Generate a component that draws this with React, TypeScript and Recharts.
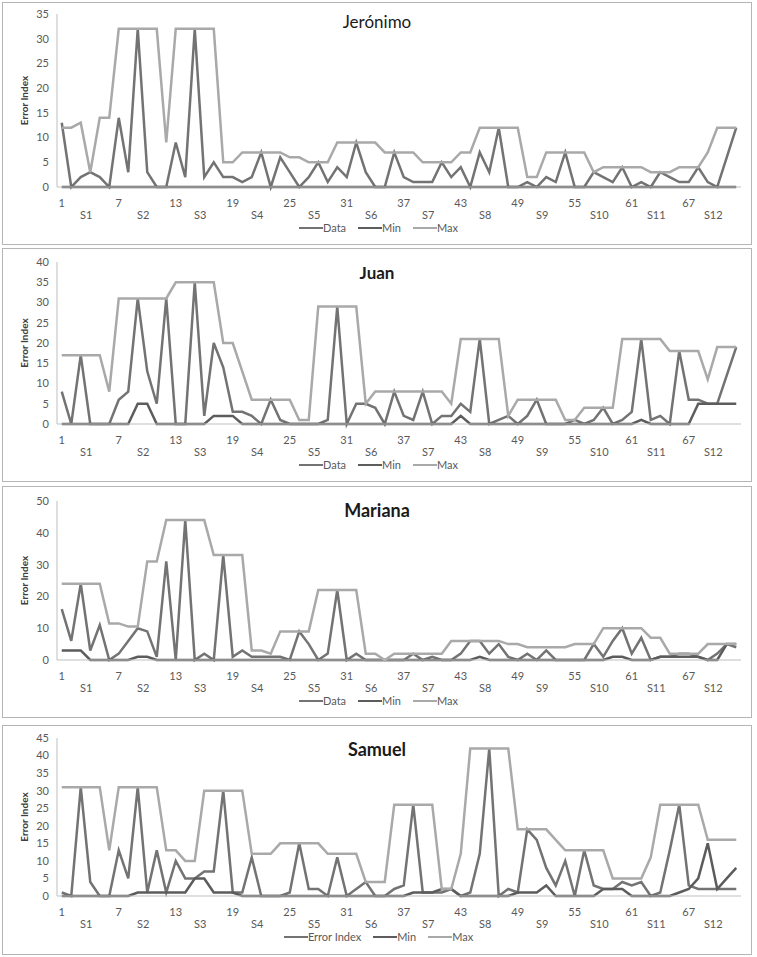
import React from "react";
import { Legend, Line, LineChart, XAxis, YAxis } from "recharts";

// category axis: 72 measurements grouped in 12 sessions of 6
const points = Array.from({ length: 72 }, (_, i) => i + 1);
const sessionLabels = ["S1", "S2", "S3", "S4", "S5", "S6", "S7", "S8", "S9", "S10", "S11", "S12"];
const seriesOrder = ["data", "min", "max"];

// Jerónimo
const jeronimoData = [
  13, 0, 2, 3, 2, 0, 14, 3, 32, 3, 0, 0, 9, 2, 32, 2, 5, 2, 2, 1, 2, 7, 0, 6,
  3, 0, 2, 5, 1, 4, 2, 9, 3, 0, 0, 7, 2, 1, 1, 1, 5, 2, 4, 0, 7, 3, 12, 0,
  0, 1, 0, 2, 1, 7, 0, 0, 3, 2, 1, 4, 0, 1, 0, 3, 2, 1, 1, 4, 1, 0, 6, 12,
];
const jeronimoMin = [
  0, 0, 0, 0, 0, 0, 0, 0, 0, 0, 0, 0, 0, 0, 0, 0, 0, 0, 0, 0, 0, 0, 0, 0,
  0, 0, 0, 0, 0, 0, 0, 0, 0, 0, 0, 0, 0, 0, 0, 0, 0, 0, 0, 0, 0, 0, 0, 0,
  0, 0, 0, 0, 0, 0, 0, 0, 0, 0, 0, 0, 0, 0, 0, 0, 0, 0, 0, 0, 0, 0, 0, 0,
];
const jeronimoMax = [
  12, 12, 13, 3, 14, 14, 32, 32, 32, 32, 32, 9, 32, 32, 32, 32, 32, 5, 5, 7, 7, 7, 7, 7,
  6, 6, 5, 5, 5, 9, 9, 9, 9, 9, 7, 7, 7, 7, 5, 5, 5, 5, 7, 7, 12, 12, 12, 12,
  12, 2, 2, 7, 7, 7, 7, 7, 3, 4, 4, 4, 4, 4, 3, 3, 3, 4, 4, 4, 7, 12, 12, 12,
];

// Juan
const juanData = [
  8, 0, 17, 0, 0, 0, 6, 8, 31, 13, 5, 31, 0, 0, 35, 2, 20, 14, 3, 3, 2, 0, 6, 1,
  0, 0, 0, 0, 1, 29, 0, 5, 5, 4, 0, 8, 2, 1, 8, 0, 2, 2, 5, 3, 21, 0, 1, 2,
  0, 2, 6, 0, 0, 0, 1, 0, 1, 4, 0, 1, 3, 21, 1, 2, 0, 18, 6, 6, 5, 5, 12, 19,
];
const juanMin = [
  0, 0, 0, 0, 0, 0, 0, 0, 5, 5, 0, 0, 0, 0, 0, 0, 2, 2, 2, 0, 0, 0, 0, 0,
  0, 0, 0, 0, 0, 0, 0, 0, 0, 0, 0, 0, 0, 0, 0, 0, 0, 0, 2, 0, 0, 0, 0, 0,
  0, 0, 0, 0, 0, 0, 0, 0, 0, 0, 0, 0, 0, 1, 0, 0, 0, 0, 0, 5, 5, 5, 5, 5,
];
const juanMax = [
  17, 17, 17, 17, 17, 8, 31, 31, 31, 31, 31, 31, 35, 35, 35, 35, 35, 20, 20, 13, 6, 6, 6, 6,
  6, 1, 1, 29, 29, 29, 29, 29, 5, 8, 8, 8, 8, 8, 8, 8, 8, 5, 21, 21, 21, 21, 21, 2,
  6, 6, 6, 6, 6, 1, 1, 4, 4, 4, 4, 21, 21, 21, 21, 21, 18, 18, 18, 18, 11, 19, 19, 19,
];

// Mariana
const marianaData = [
  16, 6, 24, 3, 11, 0, 2, 6, 10, 9, 1, 31, 0, 44, 0, 2, 0, 33, 1, 3, 1, 1, 1, 1,
  0, 9, 5, 0, 2, 22, 0, 2, 0, 0, 0, 0, 0, 2, 0, 1, 0, 0, 2, 6, 6, 2, 5, 1,
  0, 2, 0, 3, 0, 0, 0, 0, 5, 1, 6, 10, 2, 7, 0, 1, 1, 2, 2, 1, 0, 2, 5, 4,
];
const marianaMin = [
  3, 3, 3, 0, 0, 0, 0, 0, 1, 1, 0, 0, 0, 0, 0, 0, 0, 0, 0, 0, 0, 0, 0, 0,
  0, 0, 0, 0, 0, 0, 0, 0, 0, 0, 0, 0, 0, 0, 0, 0, 0, 0, 0, 0, 1, 0, 0, 0,
  0, 0, 0, 0, 0, 0, 0, 0, 0, 0, 1, 1, 0, 0, 0, 1, 1, 1, 1, 1, 0, 0, 5, 5,
];
const marianaMax = [
  24, 24, 24, 24, 24, 11.5, 11.5, 10.5, 10.5, 31, 31, 44, 44, 44, 44, 44, 33, 33, 33, 33, 3, 3, 2, 9,
  9, 9, 9, 22, 22, 22, 22, 22, 2, 2, 0, 2, 2, 2, 2, 2, 2, 6, 6, 6, 6, 6, 6, 5,
  5, 4, 4, 4, 4, 4, 5, 5, 5, 10, 10, 10, 10, 10, 7, 7, 2, 2, 2, 2, 5, 5, 5, 5,
];

// Samuel
const samuelData = [
  1, 0, 31, 4, 0, 0, 13, 5, 31, 1, 13, 1, 10, 5, 5, 7, 7, 30, 1, 1, 11, 0, 0, 0,
  1, 15, 2, 2, 0, 11, 0, 2, 4, 0, 0, 2, 3, 26, 1, 1, 1, 2, 0, 1, 12, 42, 0, 2,
  1, 19, 16, 8, 3, 10, 0, 13, 3, 2, 2, 4, 3, 4, 0, 1, 13, 26, 3, 2, 2, 2, 2, 2,
];
const samuelMin = [
  0, 0, 0, 0, 0, 0, 0, 0, 1, 1, 1, 1, 1, 1, 5, 5, 1, 1, 1, 0, 0, 0, 0, 0,
  0, 0, 0, 0, 0, 0, 0, 0, 0, 0, 0, 0, 0, 1, 1, 1, 2, 2, 0, 0, 0, 0, 0, 0,
  1, 1, 1, 3, 0, 0, 0, 0, 0, 2, 2, 2, 0, 0, 0, 0, 0, 1, 2, 5, 15, 2, 5, 8,
];
const samuelMax = [
  31, 31, 31, 31, 31, 13, 31, 31, 31, 31, 31, 13, 13, 10, 10, 30, 30, 30, 30, 30, 12, 12, 12, 15,
  15, 15, 15, 15, 12, 12, 12, 12, 4, 4, 4, 26, 26, 26, 26, 26, 2, 2, 12, 42, 42, 42, 42, 42,
  19, 19, 19, 19, 16, 13, 13, 13, 13, 13, 5, 5, 5, 5, 11, 26, 26, 26, 26, 26, 16, 16, 16, 16,
];

const DATA_COLOR = "#737373";
const MIN_COLOR = "#5c5c5c";
const MAX_COLOR = "#a9a9a9";
const AXIS_COLOR = "#bfbfbf";
const TEXT_COLOR = "#595959";

type Panel = {
  name: string;
  bold: boolean;
  titleSize: number;
  dataLabel: string;
  data: number[];
  min: number[];
  max: number[];
  yTicks: number[];
  top: number;
  height: number;
  plotTop: number;
  baseline: number;
  titleY: number;
};

const panels: Panel[] = [
  {
    name: "Jerónimo", bold: false, titleSize: 17, dataLabel: "Data",
    data: jeronimoData, min: jeronimoMin, max: jeronimoMax,
    yTicks: [0, 5, 10, 15, 20, 25, 30, 35],
    top: 2, height: 243, plotTop: 12, baseline: 185, titleY: 20,
  },
  {
    name: "Juan", bold: true, titleSize: 17, dataLabel: "Data",
    data: juanData, min: juanMin, max: juanMax,
    yTicks: [0, 5, 10, 15, 20, 25, 30, 35, 40],
    top: 248, height: 234, plotTop: 14, baseline: 176, titleY: 25,
  },
  {
    name: "Mariana", bold: true, titleSize: 18, dataLabel: "Data",
    data: marianaData, min: marianaMin, max: marianaMax,
    yTicks: [0, 10, 20, 30, 40, 50],
    top: 486, height: 232, plotTop: 15, baseline: 174, titleY: 24,
  },
  {
    name: "Samuel", bold: true, titleSize: 18, dataLabel: "Error Index",
    data: samuelData, min: samuelMin, max: samuelMax,
    yTicks: [0, 5, 10, 15, 20, 25, 30, 35, 40, 45],
    top: 725, height: 230, plotTop: 13, baseline: 171, titleY: 24,
  },
];

const SessionTick = (props: any) => {
  const { x, y, payload } = props;
  const i = Number(payload.value);
  return (
    <g>
      {(i - 1) % 6 === 0 && (
        <text x={x} y={y + 12} textAnchor="middle" fontSize={11} fill={TEXT_COLOR}>
          {i}
        </text>
      )}
      {i % 6 === 4 && (
        <text x={x - 4} y={y + 24} textAnchor="middle" fontSize={11} fill={TEXT_COLOR}>
          {sessionLabels[(i - 4) / 6]}
        </text>
      )}
    </g>
  );
};

const LegendContent = (props: any) => {
  const items = [...(props.payload || [])].sort(
    (a: any, b: any) => seriesOrder.indexOf(a.dataKey) - seriesOrder.indexOf(b.dataKey)
  );
  return (
    <div style={{ display: "flex", justifyContent: "center", gap: 12, height: 14, lineHeight: "14px", fontSize: 11, color: TEXT_COLOR }}>
      {items.map((it: any) => (
        <span key={it.dataKey} style={{ display: "inline-flex", alignItems: "center" }}>
          <span style={{ display: "inline-block", width: 24, height: 2.5, background: it.color }} />
          <span>{it.value}</span>
        </span>
      ))}
    </div>
  );
};

const PersonChart = ({ p }: { p: Panel }) => {
  const rows = points.map((pt, i) => ({ point: pt, data: p.data[i], min: p.min[i], max: p.max[i] }));
  const yMax = p.yTicks[p.yTicks.length - 1];
  return (
    <div style={{ position: "absolute", left: 0, top: p.top, width: 757, height: p.height }}>
      <div
        style={{
          position: "absolute", left: 2, top: 0, width: 750, height: p.height,
          boxSizing: "border-box", border: "1px solid #b5b5b5",
        }}
      />
      <div
        style={{
          position: "absolute", left: 2, width: 750, top: p.titleY - 11, height: 22, lineHeight: "22px",
          textAlign: "center", fontSize: p.titleSize, fontWeight: p.bold ? 700 : 400, color: "#1a1a1a",
        }}
      >
        {p.name}
      </div>
      <LineChart
        width={757}
        height={p.height}
        data={rows}
        margin={{ top: p.plotTop, right: 16, left: 16, bottom: 0 }}
      >
        <XAxis
          dataKey="point"
          interval={0}
          height={p.height - p.baseline}
          padding={{ left: 4.75, right: 4.75 }}
          axisLine={{ stroke: AXIS_COLOR }}
          tickLine={false}
          tick={<SessionTick />}
        />
        <YAxis
          width={41}
          domain={[0, yMax]}
          ticks={p.yTicks}
          interval={0}
          axisLine={{ stroke: AXIS_COLOR }}
          tickLine={false}
          tick={{ fontSize: 11, fill: TEXT_COLOR }}
          label={{
            value: "Error Index", angle: -90, position: "insideLeft", offset: 8,
            style: { textAnchor: "middle", fontSize: 10, fontWeight: 700, fill: "#404040" },
          }}
        />
        <Legend
          layout="horizontal"
          verticalAlign="middle"
          align="center"
          content={<LegendContent />}
          wrapperStyle={{ top: p.baseline + 34, left: 0, width: 757, bottom: "auto" }}
        />
        <Line type="linear" dataKey="data" name={p.dataLabel} stroke={DATA_COLOR} strokeWidth={2.5} dot={false} isAnimationActive={false} />
        <Line type="linear" dataKey="min" name="Min" stroke={MIN_COLOR} strokeWidth={2.5} dot={false} isAnimationActive={false} />
        <Line type="linear" dataKey="max" name="Max" stroke={MAX_COLOR} strokeWidth={2.5} dot={false} isAnimationActive={false} />
      </LineChart>
    </div>
  );
};

const App: React.FC = () => {
  return (
    <div
      style={{
        position: "absolute", left: 0, top: 0, width: 757, height: 957,
        background: "#ffffff", fontFamily: "Lato, 'Open Sans', sans-serif",
      }}
    >
      {panels.map((p) => (
        <PersonChart key={p.name} p={p} />
      ))}
    </div>
  );
};

export default App;
